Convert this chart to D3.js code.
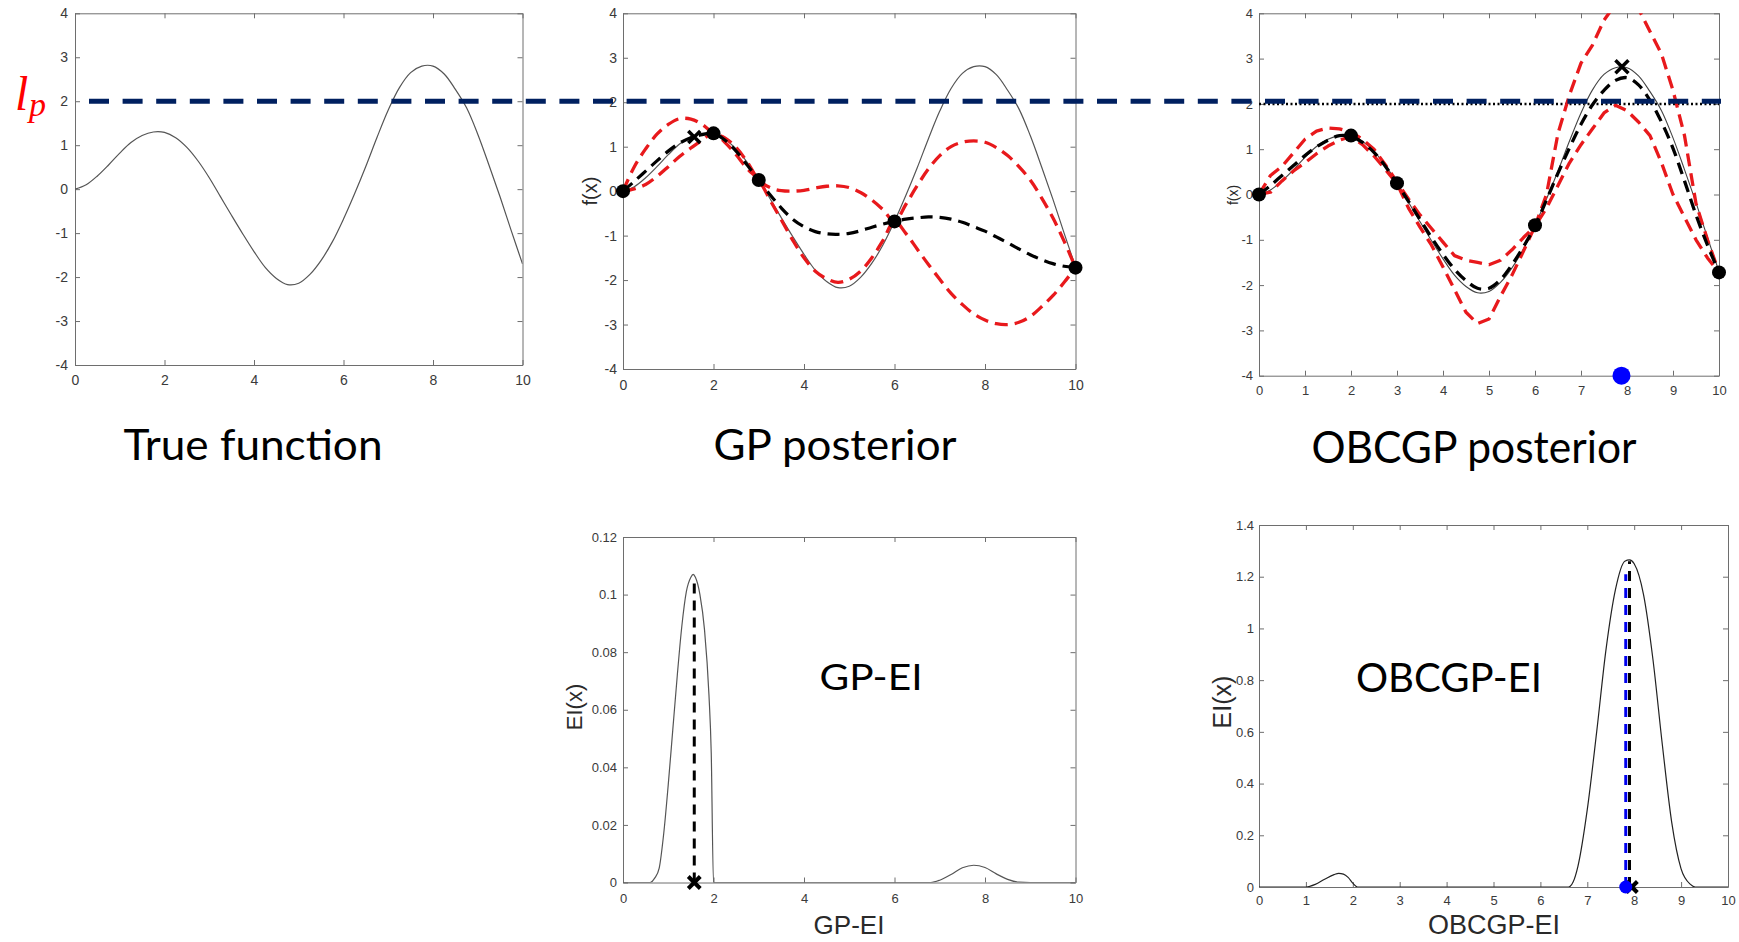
<!DOCTYPE html>
<html><head><meta charset="utf-8">
<script src="https://cdn.jsdelivr.net/npm/d3@7"></script>
<style>body{margin:0;background:#fff}svg{display:block}</style>
</head><body><svg id="c" width="1739" height="942"></svg>
<script>
// ---------------- data ----------------
const gridX = [0,0.25,0.5,0.75,1,1.25,1.5,1.75,2,2.25,2.5,2.75,3,3.25,3.5,3.75,4,4.25,4.5,4.75,5,5.25,5.5,5.75,6,6.25,6.5,6.75,7,7.25,7.5,7.75,8,8.25,8.5,8.75,9,9.25,9.5,9.75,10];
const trueY = [0,0.1,0.3,0.55,0.82,1.06,1.22,1.3,1.29,1.17,0.95,0.64,0.26,-0.17,-0.6,-1.02,-1.42,-1.78,-2.03,-2.17,-2.14,-1.94,-1.62,-1.2,-0.68,-0.1,0.52,1.18,1.8,2.31,2.65,2.8,2.8,2.62,2.27,1.85,1.25,0.55,-0.18,-0.95,-1.7];
const gpMean = [0,0.22,0.45,0.68,0.9,1.08,1.2,1.27,1.3,1.15,0.9,0.58,0.25,-0.08,-0.38,-0.63,-0.8,-0.91,-0.96,-0.97,-0.95,-0.89,-0.81,-0.74,-0.68,-0.63,-0.6,-0.58,-0.59,-0.63,-0.7,-0.8,-0.9,-1.03,-1.16,-1.3,-1.43,-1.54,-1.63,-1.69,-1.72];
const gpUpper = [0,0.55,0.95,1.28,1.5,1.63,1.62,1.5,1.3,1.2,0.98,0.65,0.25,0.08,0.01,0,0.02,0.07,0.11,0.12,0.08,-0.03,-0.2,-0.42,-0.68,-0.3,0.12,0.5,0.8,1.0,1.1,1.13,1.1,0.98,0.8,0.55,0.25,-0.15,-0.6,-1.13,-1.72];
const gpLower = [0,0.05,0.15,0.33,0.55,0.78,0.97,1.15,1.3,1.1,0.82,0.5,0.25,-0.2,-0.65,-1.1,-1.5,-1.8,-1.97,-2.05,-1.98,-1.8,-1.5,-1.1,-0.68,-0.95,-1.3,-1.65,-1.98,-2.3,-2.55,-2.76,-2.9,-2.98,-3.0,-2.95,-2.82,-2.6,-2.35,-2.05,-1.72];
const obMean = [0,0.2,0.42,0.64,0.86,1.05,1.2,1.3,1.28,1.15,0.93,0.62,0.24,-0.15,-0.55,-0.95,-1.32,-1.65,-1.9,-2.07,-2.07,-1.88,-1.55,-1.15,-0.7,-0.12,0.47,1.03,1.55,1.98,2.3,2.52,2.58,2.42,2.08,1.6,1.02,0.3,-0.45,-1.12,-1.72];
const obUpper = [0,0.42,0.62,0.92,1.22,1.4,1.47,1.45,1.38,1.22,1.0,0.65,0.28,-0.1,-0.45,-0.75,-1.05,-1.35,-1.45,-1.5,-1.55,-1.45,-1.22,-0.95,-0.7,0.0,1.35,2.2,2.9,3.3,3.85,4.2,4.3,4.1,3.6,3.1,2.3,1.3,-0.2,-1.0,-1.72];
const obLower = [0,0.05,0.3,0.52,0.7,0.9,1.07,1.2,1.28,1.1,0.85,0.55,0.24,-0.3,-0.72,-1.12,-1.6,-2.1,-2.6,-2.85,-2.75,-2.25,-1.78,-1.25,-0.7,-0.3,0.2,0.7,1.1,1.45,1.8,1.97,1.85,1.6,1.3,0.7,0.0,-0.5,-1.0,-1.4,-1.72];
const obsX = [0,2,3,6,10];
const obsY = [0,1.3,0.25,-0.68,-1.72];
const gpBest = [1.575, 1.22];
const obBest = [7.89, 2.82];
const obBlueX = 7.88;
const levelLp = 2;

const gpEiX = [0,0.5,0.6,0.7,0.8,0.9,1.0,1.1,1.2,1.3,1.4,1.5,1.55,1.6,1.7,1.8,1.9,1.95,2.0,2.5,6.8,7.0,7.25,7.5,7.75,8.0,8.25,8.5,8.75,9.0,10];
const gpEiY = [0,0,0,0.0015,0.005,0.017,0.034,0.053,0.072,0.089,0.101,0.106,0.107,0.106,0.1,0.088,0.065,0.045,0,0,0,0.0008,0.0028,0.0051,0.006,0.0052,0.003,0.0011,0.0001,0,0];
const gpEiArgX = 1.575, gpEiArgTop = 0.104;
const obEiX = [0,1.0,1.2,1.4,1.6,1.7,1.8,1.9,2.0,2.1,6.5,6.6,6.7,6.8,7.0,7.2,7.4,7.6,7.8,7.9,8.0,8.2,8.4,8.6,8.8,9.0,9.2,9.3,10];
const obEiY = [0,0,0.01,0.03,0.048,0.053,0.05,0.037,0.015,0,0,0,0.02,0.08,0.3,0.6,0.92,1.15,1.26,1.265,1.25,1.13,0.88,0.55,0.25,0.07,0.01,0,0];
const obEiBlueX = 7.82, obEiBlueTop = 1.21;
const obEiBlackX = 7.9, obEiBlackTop = 1.26;

const xTicks10 = [0,2,4,6,8,10];
const xTicks1 = [0,1,2,3,4,5,6,7,8,9,10];
const fTicks = [-4,-3,-2,-1,0,1,2,3,4];
const gpEiTicks = [0,0.02,0.04,0.06,0.08,0.1,0.12];
const obEiTicks = [0,0.2,0.4,0.6,0.8,1,1.2,1.4];

const titles = ["True function","GP posterior","OBCGP posterior"];

// ---------------- drawing ----------------
const svg = d3.select('#c');
const defs = svg.append('defs');
const AX = '#6e6e6e';
const fmt = d => String(d);

function panel(box, xT, yT, yDom, o) {
  const x = d3.scaleLinear().domain([0,10]).range([box.l, box.r]);
  const y = d3.scaleLinear().domain(yDom).range([box.b, box.t]);
  const g = svg.append('g');
  const mk = (axis, tr) => {
    const a = g.append('g').attr('transform', tr).call(axis);
    a.select('.domain').attr('stroke', AX).attr('stroke-width', 1);
    a.selectAll('.tick line').attr('stroke', AX);
    a.selectAll('.tick text').attr('fill', '#3a3a3a')
      .style('font-family', '"Liberation Sans", Arial, sans-serif').style('font-size', o.fs + 'px');
  };
  const none = () => '';
  mk(d3.axisBottom(x).tickValues(xT).tickFormat(fmt).tickSizeInner(-5).tickSizeOuter(0).tickPadding(o.xPad), `translate(0,${box.b})`);
  mk(d3.axisTop(x).tickValues(xT).tickFormat(none).tickSizeInner(-5).tickSizeOuter(0), `translate(0,${box.t})`);
  mk(d3.axisLeft(y).tickValues(yT).tickFormat(fmt).tickSizeInner(-5).tickSizeOuter(0).tickPadding(o.yPad), `translate(${box.l},0)`);
  mk(d3.axisRight(y).tickValues(yT).tickFormat(none).tickSizeInner(-5).tickSizeOuter(0), `translate(${box.r},0)`);
  const id = 'clip' + Math.round(box.l) + '_' + Math.round(box.t);
  defs.append('clipPath').attr('id', id).append('rect')
    .attr('x', box.l).attr('y', box.t).attr('width', box.r - box.l).attr('height', box.b - box.t);
  const inner = g.append('g').attr('clip-path', `url(#${id})`);
  return {x, y, g, inner};
}

function series(p, X, Y, curve, stroke, width, dash) {
  const line = d3.line().x((d,i) => p.x(X[i])).y(d => p.y(d)).curve(curve);
  p.inner.append('path').attr('d', line(Y)).attr('fill','none')
    .attr('stroke', stroke).attr('stroke-width', width)
    .attr('stroke-dasharray', dash || null).attr('stroke-linejoin','round');
}
function dots(p, X, Y, r, fill) {
  p.g.selectAll(null).data(X).enter().append('circle')
    .attr('cx', d => p.x(d)).attr('cy', (d,i) => p.y(Y[i])).attr('r', r).attr('fill', fill);
}
function cross(p, xv, yv, s, w) {
  const cx = p.x(xv), cy = p.y(yv);
  p.g.append('path').attr('d', `M${cx-s},${cy-s}L${cx+s},${cy+s}M${cx-s},${cy+s}L${cx+s},${cy-s}`)
    .attr('stroke', '#000').attr('stroke-width', w).attr('fill','none');
}
function ylabel(x, y, txt, fs) {
  svg.append('text').attr('transform', `translate(${x},${y}) rotate(-90)`).attr('text-anchor','middle')
    .attr('dominant-baseline','central').attr('fill','#2a2a2a')
    .style('font-family','"Liberation Sans", Arial, sans-serif').style('font-size', fs + 'px').text(txt);
}
function bigText(x, y, txt, fs, len, anchor) {
  svg.append('text').attr('x', x).attr('y', y).attr('text-anchor', anchor || 'middle')
    .attr('textLength', len).attr('lengthAdjust','spacingAndGlyphs')
    .style('font-family','Lato, "Open Sans", sans-serif').style('font-size', fs + 'px').attr('fill','#000').text(txt);
}
function xlabel(x, y, txt, fs) {
  svg.append('text').attr('x', x).attr('y', y).attr('text-anchor','middle').attr('fill','#2a2a2a')
    .style('font-family','"Liberation Sans", Arial, sans-serif').style('font-size', fs + 'px').text(txt);
}

const RED = '#e8191c';
const smooth = d3.curveCatmullRom.alpha(0.5);

// Panel 1: true function
const p1 = panel({l:75, r:522.5, t:13.3, b:365}, xTicks10, fTicks, [-4,4], {fs:14, xPad:10, yPad:7});
series(p1, gridX, trueY, smooth, '#555', 1.2);

// Panel 2: GP posterior
const p2 = panel({l:623, r:1075.5, t:13.3, b:369}, xTicks10, fTicks, [-4,4], {fs:14, xPad:11, yPad:6});
series(p2, gridX, trueY, smooth, '#555', 1.2);
series(p2, gridX, gpUpper, smooth, RED, 3.3, '13,7');
series(p2, gridX, gpLower, smooth, RED, 3.3, '13,7');
series(p2, gridX, gpMean, smooth, '#000', 3.2, '12,7');
dots(p2, obsX, obsY, 7, '#000');
cross(p2, gpBest[0], gpBest[1], 6, 3.5);
ylabel(590, 191, 'f(x)', 20);

// Panel 3: OBCGP posterior
const p3 = panel({l:1259, r:1719, t:13.3, b:375.7}, xTicks1, fTicks, [-4,4], {fs:13, xPad:10, yPad:6});
series(p3, [0,10], [levelLp, levelLp], d3.curveLinear, '#000', 2.5, '2,2.5');
series(p3, gridX, trueY, smooth, '#444', 1.1);
series(p3, gridX, obUpper, d3.curveLinear, RED, 3.3, '13,7');
series(p3, gridX, obLower, d3.curveLinear, RED, 3.3, '13,7');
series(p3, gridX, obMean, smooth, '#000', 3.3, '12,7');
dots(p3, obsX, obsY, 7, '#000');
cross(p3, obBest[0], obBest[1], 6.5, 3.5);
p3.g.append('circle').attr('cx', p3.x(obBlueX)).attr('cy', p3.y(-4)).attr('r', 9).attr('fill', '#0000ff');
ylabel(1233, 195, 'f(x)', 14);

// Panel 4: GP-EI
const p4 = panel({l:623, r:1075.5, t:537, b:882.5}, xTicks10, gpEiTicks, [0,0.12], {fs:13, xPad:11, yPad:6});
series(p4, gpEiX, gpEiY, d3.curveMonotoneX, '#555', 1.2);
series(p4, [gpEiArgX, gpEiArgX], [0, gpEiArgTop], d3.curveLinear, '#000', 3, '10,7');
cross(p4, gpEiArgX, 0, 6, 4);
ylabel(574, 707, 'EI(x)', 22);
xlabel(849, 934, 'GP-EI', 26);
bigText(871, 690, 'GP-EI', 37, 103);

// Panel 5: OBCGP-EI
const p5 = panel({l:1259, r:1728, t:525, b:887}, xTicks1, obEiTicks, [0,1.4], {fs:13, xPad:9, yPad:5});
series(p5, obEiX, obEiY, d3.curveMonotoneX, '#222', 1.2);
series(p5, [obEiBlackX, obEiBlackX], [0, obEiBlackTop], d3.curveLinear, '#000', 3, '10,7');
series(p5, [obEiBlueX, obEiBlueX], [0, obEiBlueTop], d3.curveLinear, '#0000ee', 3, '10,7');
cross(p5, obEiBlackX + 0.05, 0, 5.5, 4);
p5.g.append('circle').attr('cx', p5.x(obEiBlueX)).attr('cy', p5.y(0)).attr('r', 6.5).attr('fill', '#0000ff');
ylabel(1222, 702, 'EI(x)', 25);
xlabel(1494, 934, 'OBCGP-EI', 27);
bigText(1449, 692, 'OBCGP-EI', 41, 186);

// Titles under the top row
bigText(253, 460, titles[0], 42, 259);
bigText(835, 460, titles[1], 42, 243);
bigText(1474, 463, titles[2], 44, 325);

// l_p threshold line across the figure
const lpY = p1.y(levelLp);
svg.append('line').attr('x1', 89).attr('x2', 1721).attr('y1', lpY).attr('y2', lpY)
  .attr('stroke', '#002060').attr('stroke-width', 5).attr('stroke-dasharray', '20,13.6');
svg.append('text').attr('x', 15).attr('y', 110).attr('fill', '#ff0000')
  .style('font-family','"Liberation Serif", "DejaVu Serif", serif').style('font-style','italic').style('font-size','48px').text('l');
svg.append('text').attr('x', 29).attr('y', 116).attr('fill', '#ff0000')
  .style('font-family','"Liberation Serif", "DejaVu Serif", serif').style('font-style','italic').style('font-size','34px').text('p');
</script></body></html>
